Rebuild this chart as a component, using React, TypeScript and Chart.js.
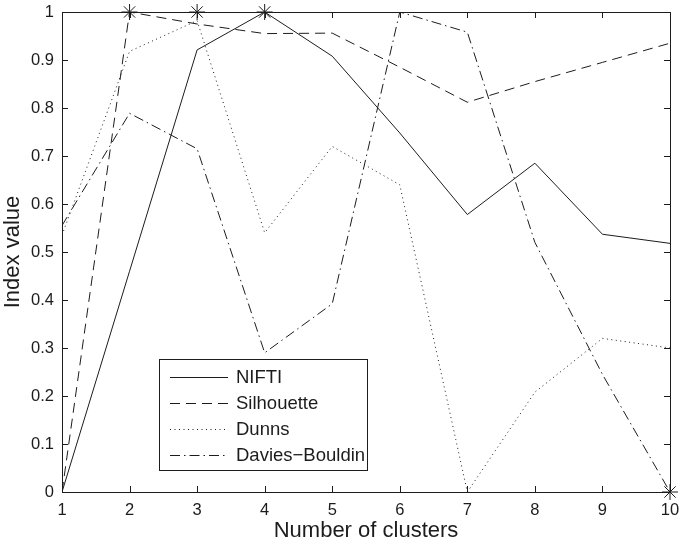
import React, { useEffect, useRef } from "react";
import { Chart, registerables } from "chart.js";

Chart.register(...registerables);

const clusters = [1, 2, 3, 4, 5, 6, 7, 8, 9, 10];
const nifti = [0, 0.46, 0.921, 1.0, 0.908, 0.748, 0.578, 0.685, 0.537, 0.518];
const silhouette = [0, 1.0, 0.975, 0.955, 0.956, 0.885, 0.812, 0.855, 0.895, 0.935];
const dunns = [0.535, 0.918, 0.982, 0.54, 0.72, 0.64, 0.0, 0.208, 0.32, 0.3];
const daviesBouldin = [0.555, 0.789, 0.715, 0.29, 0.392, 1.0, 0.958, 0.52, 0.245, 0.0];
const bestX = [2, 3, 4, 10];
const bestY = [1, 1, 1, 0];
const xTicks = [1, 2, 3, 4, 5, 6, 7, 8, 9, 10];
const yTicks = [0, 0.1, 0.2, 0.3, 0.4, 0.5, 0.6, 0.7, 0.8, 0.9, 1];

const INK = "#1c1c1c";
const FONT = "'Liberation Sans', Arial, Helvetica, sans-serif";

const seriesDefs = [
  { label: "NIFTI", data: nifti, dash: [] as number[] },
  { label: "Silhouette", data: silhouette, dash: [10, 6] },
  { label: "Dunns", data: dunns, dash: [1, 3.5] },
  { label: "Davies\u2212Bouldin", data: daviesBouldin, dash: [10, 4, 1.5, 4] },
];

const framePlugin = {
  id: "frame",
  beforeDatasetsDraw(chart: any) {
    const { ctx, chartArea } = chart;
    const { left, right, top, bottom } = chartArea;
    const xs = chart.scales.x;
    const ys = chart.scales.y;
    ctx.save();
    ctx.strokeStyle = INK;
    ctx.lineWidth = 1;
    ctx.setLineDash([]);
    ctx.strokeRect(Math.round(left) + 0.5, Math.round(top) + 0.5, Math.round(right - left), Math.round(bottom - top));
    const tl = 6;
    ctx.beginPath();
    xTicks.forEach((v) => {
      const px = Math.round(xs.getPixelForValue(v)) + 0.5;
      ctx.moveTo(px, bottom);
      ctx.lineTo(px, bottom - tl);
      ctx.moveTo(px, top);
      ctx.lineTo(px, top + tl);
    });
    yTicks.forEach((v) => {
      const py = Math.round(ys.getPixelForValue(v)) + 0.5;
      ctx.moveTo(left, py);
      ctx.lineTo(left + tl, py);
      ctx.moveTo(right, py);
      ctx.lineTo(right - tl, py);
    });
    ctx.stroke();
    ctx.restore();
  },
  afterDraw(chart: any) {
    const { ctx } = chart;
    const bx = 159.5, by = 359.5, bw = 208, bh = 111;
    ctx.save();
    ctx.fillStyle = "#fff";
    ctx.fillRect(bx, by, bw, bh);
    ctx.strokeStyle = INK;
    ctx.lineWidth = 1;
    ctx.setLineDash([]);
    ctx.strokeRect(bx, by, bw, bh);
    ctx.font = `18.5px ${FONT}`;
    ctx.textBaseline = "middle";
    ctx.textAlign = "left";
    ctx.fillStyle = INK;
    seriesDefs.forEach((s, i) => {
      const y = 376.5 + i * 26.3;
      ctx.beginPath();
      ctx.setLineDash(s.dash);
      ctx.moveTo(170, Math.round(y) + 0.5);
      ctx.lineTo(228, Math.round(y) + 0.5);
      ctx.stroke();
      ctx.setLineDash([]);
      ctx.fillText(s.label, 236, y + 1);
    });
    ctx.restore();
  },
};

const zeroPad = (s: any) => {
  s.paddingTop = 0;
  s.paddingBottom = 0;
  s.paddingLeft = 0;
  s.paddingRight = 0;
};

export default function App() {
  const ref = useRef<HTMLCanvasElement>(null);
  useEffect(() => {
    document.body.style.margin = "0";
    const datasets: any[] = seriesDefs.map((s) => ({
      label: s.label,
      data: clusters.map((c, i) => ({ x: c, y: s.data[i] })),
      borderColor: INK,
      borderWidth: 1,
      borderDash: s.dash,
      pointRadius: 0,
      fill: false,
      tension: 0,
    }));
    datasets.push({
      label: "best",
      data: bestX.map((x, i) => ({ x, y: bestY[i] })),
      showLine: false,
      clip: false,
      pointStyle: "star",
      pointRadius: 8,
      borderColor: INK,
      borderWidth: 1,
      backgroundColor: INK,
    });
    const chart = new Chart(ref.current!, {
      type: "line",
      data: { datasets },
      plugins: [framePlugin],
      options: {
        animation: false,
        responsive: false,
        maintainAspectRatio: false,
        layout: { padding: { top: 12, right: 15, left: 0, bottom: 0 } },
        plugins: { legend: { display: false }, tooltip: { enabled: false } },
        scales: {
          x: {
            type: "linear",
            min: 1,
            max: 10,
            afterFit: (s: any) => { s.height = 52; zeroPad(s); },
            afterBuildTicks: (s: any) => { s.ticks = xTicks.map((v) => ({ value: v })); },
            grid: { display: false, drawTicks: false },
            border: { display: false },
            ticks: { padding: 9, color: INK, font: { family: FONT, size: 16.5 }, maxRotation: 0 },
            title: { display: true, text: "Number of clusters", color: INK, font: { family: FONT, size: 22 }, padding: { top: 0, bottom: 0 } },
          },
          y: {
            type: "linear",
            min: 0,
            max: 1,
            afterFit: (s: any) => { s.width = 62; zeroPad(s); },
            afterBuildTicks: (s: any) => { s.ticks = yTicks.map((v) => ({ value: v })); },
            grid: { display: false, drawTicks: false },
            border: { display: false },
            ticks: { padding: 8, color: INK, font: { family: FONT, size: 16.5 }, callback: (v: any) => String(Math.round(Number(v) * 10) / 10) },
            title: { display: true, text: "Index value", color: INK, font: { family: FONT, size: 22 }, padding: { top: 0, bottom: 0 } },
          },
        },
      },
    });
    return () => chart.destroy();
  }, []);
  return (
    <div style={{ position: "absolute", left: 0, top: 0, width: 685, height: 544, background: "#fff" }}>
      <canvas ref={ref} width={685} height={544} style={{ width: 685, height: 544 }} />
    </div>
  );
}
